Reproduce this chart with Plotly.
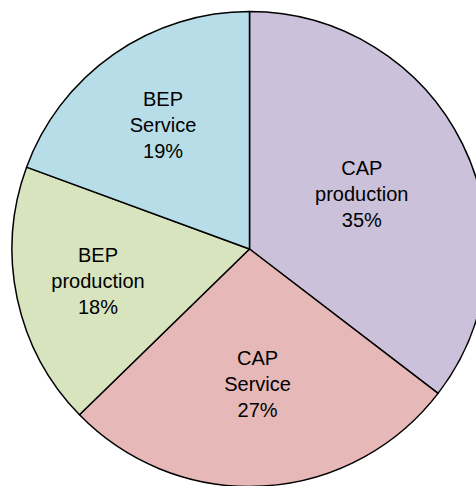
import plotly.graph_objects as go

labels = ["CAP<br>production", "CAP<br>Service", "BEP<br>production", "BEP<br>Service"]
values = [35.4, 27.3, 17.9, 19.4]
colors = ["#CCC1DA", "#E6B9B8", "#D7E4BD", "#B7DEE8"]

fig = go.Figure(go.Pie(
    labels=labels,
    values=values,
    sort=False,
    direction="clockwise",
    rotation=0,
    marker=dict(colors=colors, line=dict(color="black", width=1.5)),
    textinfo="label+percent",
    texttemplate="%{label}<br>%{percent:.0%}",
    textposition="inside",
    insidetextorientation="horizontal",
    textfont=dict(family="Arial, Liberation Sans, sans-serif", size=20, color="black"),
    hoverinfo="skip",
    showlegend=False,
))

fig.update_layout(
    width=500,
    height=500,
    margin=dict(l=12, r=13, t=11, b=13),
    paper_bgcolor="white",
    plot_bgcolor="white",
)

fig.write_html(
    "out.html",
    config={"displayModeBar": False},
    post_script="document.body.style.margin='0';document.body.style.overflow='hidden';",
)
